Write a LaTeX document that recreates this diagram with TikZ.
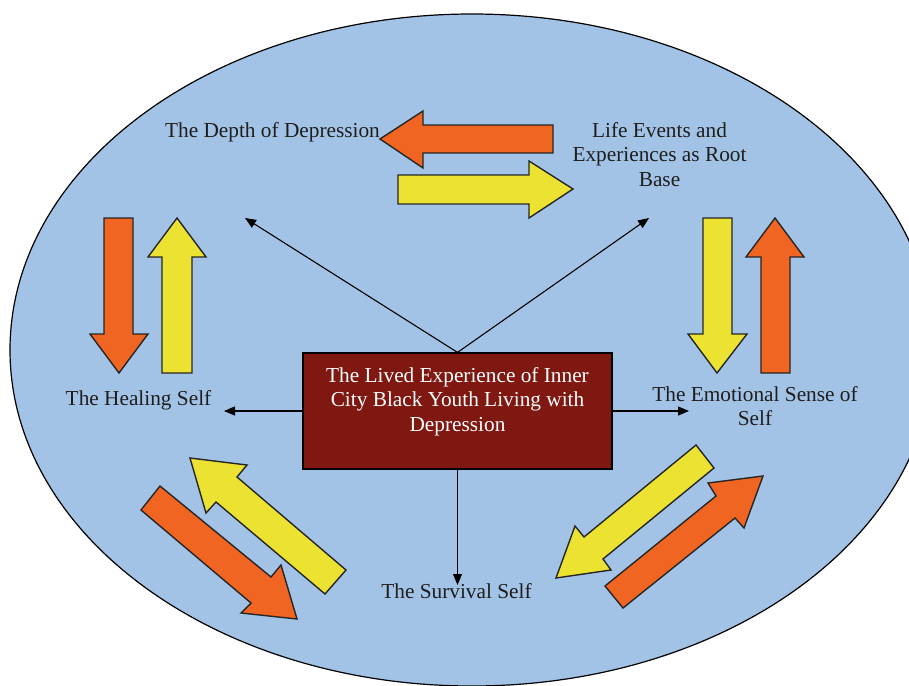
\documentclass[tikz,border=0pt]{standalone}
\usepackage{fontspec}
\setmainfont{Liberation Serif}
\usetikzlibrary{arrows.meta}
\definecolor{bgblue}{HTML}{A3C3E6}
\definecolor{aorange}{HTML}{EF6521}
\definecolor{ayellow}{HTML}{EBE232}
\definecolor{boxred}{HTML}{7E1811}
\definecolor{txt}{HTML}{1E1E1E}
\newcommand{\mlines}[1]{\begin{tabular}[t]{@{}c@{}}#1\end{tabular}}
\begin{document}
\begin{tikzpicture}[x=1pt,y=-1pt,
  lbl/.style={font=\fontsize{21.3}{24.5}\selectfont, text=txt, inner sep=0pt, anchor=base},
  conn/.style={line width=1.1pt, draw=black, -{Triangle[length=11pt,width=9pt]}},
  blockarrow/.style={draw=black!85, line width=1.4pt, line join=miter},
  ofill/.style={blockarrow, fill=aorange},
  yfill/.style={blockarrow, fill=ayellow}]
\useasboundingbox (0,0) rectangle (909,685);
\clip (0,0) rectangle (909,685);
\draw[fill=bgblue, line width=1.2pt] (472,350) ellipse [x radius=462, y radius=336];

% block arrows
\draw[ofill] (553,125) -- (423,125) -- (423,111) -- (380,139) -- (423,168) -- (423,153) -- (553,153) -- cycle;
\draw[yfill] (398,175) -- (529,175) -- (529,161) -- (573,189) -- (529,218) -- (529,204) -- (398,204) -- cycle;
\draw[ofill] (104,218) -- (133,218) -- (133,334) -- (148,334) -- (119,373) -- (90,334) -- (104,334) -- cycle;
\draw[yfill] (162,373) -- (192,373) -- (192,257) -- (206,257) -- (177,218) -- (148,257) -- (162,257) -- cycle;
\draw[yfill] (703,218) -- (732,218) -- (732,334) -- (747,334) -- (717,373) -- (688,334) -- (703,334) -- cycle;
\draw[ofill] (761,373) -- (790,373) -- (790,257) -- (804,257) -- (775,218) -- (746,257) -- (761,257) -- cycle;
\draw[yfill] (346,570) -- (237,477) -- (247,465) -- (190,458) -- (206,513) -- (216,502) -- (325,594) -- cycle;
\draw[ofill] (160,486) -- (271,577) -- (281,565) -- (297,619) -- (241,613) -- (251,603) -- (141,510) -- cycle;
\draw[yfill] (696,445) -- (714,468) -- (603,559) -- (611,570) -- (556,578) -- (575,526) -- (584,537) -- cycle;
\draw[ofill] (605,586) -- (716,496) -- (708,483) -- (763,476) -- (744,528) -- (735,518) -- (623,608) -- cycle;

% central box
\node[draw=black, line width=1.2pt, fill=boxred, minimum width=309pt, minimum height=116pt, inner sep=0pt] (core) at (457.5,411) {};
\node[lbl, text=white] (coretext) at (457.5,382) {\mlines{The Lived Experience of Inner\\City Black Youth Living with\\Depression}};

% labels
\node[lbl] (depth) at (272.5,137.5) {The Depth of Depression};
\node[lbl] (life) at (659.5,137) {\mlines{Life Events and\\Experiences as Root\\Base}};
\node[lbl] (heal) at (138.5,405) {The Healing Self};
\node[lbl] (emo) at (755,401) {\mlines{The Emotional Sense of\\Self}};
\node[lbl] (surv) at (456.5,598) {The Survival Self};

% connectors
\coordinate (tDepth) at (245,218);
\coordinate (tLife) at (649,218);
\coordinate (tHeal) at (224,411);
\coordinate (tEmo) at (689,411);
\coordinate (tSurv) at (457.5,585);
\draw[conn] (core.north) -- (tDepth);
\draw[conn] (core.north) -- (tLife);
\draw[conn] (core.west) -- (tHeal);
\draw[conn] (core.east) -- (tEmo);
\draw[conn] (core.south) -- (tSurv);
\end{tikzpicture}
\end{document}
